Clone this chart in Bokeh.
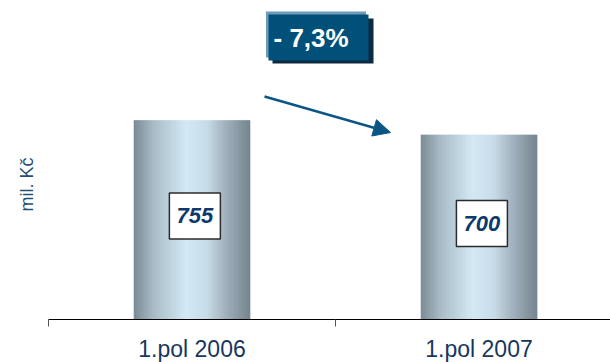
import math
from bokeh.plotting import figure
from bokeh.models import (ColumnDataSource, Range1d, FixedTicker, Label, Arrow, NormalHead, Title)
from bokeh.embed import file_html
from bokeh.resources import INLINE

# ---- data ----
categories = ["1.pol 2006", "1.pol 2007"]
values = [755, 700]
y_label = "mil. Kč"

# ---- layout constants ----
LEFT = 48
FRAME_W = 562
FRAME_H = 319
X_END = 1.958
Y_END = 1210
PX_X = FRAME_W / X_END      # px per x unit
PX_Y = FRAME_H / Y_END      # px per y unit

def sx(px):  # screen x -> data
    return (px - LEFT) / PX_X

def sy(py):  # screen y (from top) -> data
    return (FRAME_H - py) / PX_Y

FONT = "Liberation Sans"
NAVY = "#17375e"

p = figure(frame_width=FRAME_W, frame_height=FRAME_H,
           x_range=Range1d(0, X_END), y_range=Range1d(0, Y_END),
           output_backend="svg", toolbar_location=None,
           min_border_left=LEFT, min_border_right=0, min_border_top=0,
           min_border_bottom=0)
p.outline_line_color = None
p.grid.visible = False
p.background_fill_color = "white"
p.yaxis.visible = False

centers = [i + 0.5 for i in range(len(categories))]

xa = p.xaxis[0]
xa.ticker = FixedTicker(ticks=centers, minor_ticks=[0, 1, 2])
xa.major_label_overrides = {c: cat for c, cat in zip(centers, categories)}
xa.major_label_text_font = FONT
xa.major_label_text_font_size = "23px"
xa.major_label_text_color = NAVY
xa.major_label_standoff = 9
xa.axis_line_color = "#000000"
xa.axis_line_width = 1
xa.major_tick_line_color = None
xa.major_tick_out = 0
xa.major_tick_in = 0
xa.minor_tick_line_color = "#555555"
xa.minor_tick_out = 7
xa.minor_tick_in = 0

# ---- y label as a left-side title ----
p.add_layout(Title(text=y_label, align="left", offset=108, text_font=FONT,
                   text_font_size="18px", text_font_style="normal",
                   text_color="#1f4e79", standoff=24), "left")

# ---- gradient bars made of thin strips ----
stops = [(0.0, (0x7b, 0x8a, 0x94)), (0.17, (0xa9, 0xbc, 0xc7)), (0.45, (0xd3, 0xe9, 0xf5)),
         (0.63, (0xc7, 0xdc, 0xe8)), (0.80, (0x9f, 0xb0, 0xbb)), (1.0, (0x76, 0x85, 0x8e))]

def grad(t):
    for (t0, c0), (t1, c1) in zip(stops[:-1], stops[1:]):
        if t0 <= t <= t1:
            f = (t - t0) / (t1 - t0)
            c = [round(a + (b - a) * f) for a, b in zip(c0, c1)]
            return "#%02x%02x%02x" % tuple(c)
    return "#%02x%02x%02x" % stops[-1][1]

BAR_W = 116 / PX_X
N = 58
L, R, T, C = [], [], [], []
for cx, v in zip(centers, values):
    x0 = cx - BAR_W / 2
    for k in range(N):
        L.append(x0 + BAR_W * k / N)
        R.append(x0 + BAR_W * (k + 1) / N)
        T.append(v)
        C.append(grad((k + 0.5) / N))
p.quad(source=ColumnDataSource(dict(l=L, r=R, t=T, c=C)),
       left="l", right="r", bottom=0, top="t", fill_color="c", line_color="c", line_width=0.6)

# ---- value boxes ----
box_x = [c + 0.01 for c in centers]
box_y = [v * 0.52 for v in values]
p.rect(x=box_x, y=box_y, width=51, height=46, width_units="screen", height_units="screen",
       fill_color="white", line_color="#2b2b2b", line_width=1.5)
for bx, by, v in zip(box_x, box_y, values):
    p.add_layout(Label(x=bx, y=by, text=str(v), text_align="center", text_baseline="middle",
                       text_font=FONT, text_font_size="22px", text_font_style="bold italic",
                       text_color="#0d3a6c"))

# ---- change arrow ----
p.add_layout(Arrow(x_start=sx(264), y_start=sy(96), x_end=sx(390), y_end=sy(132),
                   line_color="#0b5585", line_width=2.5,
                   end=NormalHead(size=17, fill_color="#0b5585", line_color="#0b5585")))

# ---- percent box ----
change = (values[1] - values[0]) / values[0] * 100
pct_text = ("- " if change < 0 else "+ ") + ("%.1f" % abs(change)).replace(".", ",") + "%"
p.quad(left=[sx(272)], right=[sx(373)], top=[sy(18)], bottom=[sy(63)],
       fill_color="#0d2b40", line_color=None)
p.quad(left=[sx(265.5)], right=[sx(365.5)], top=[sy(11)], bottom=[sy(57)],
       fill_color="#6d9bb8", line_color=None)
p.quad(left=[sx(268)], right=[sx(368)], top=[sy(14)], bottom=[sy(60)],
       fill_color="#00507a", line_color=None)
p.add_layout(Label(x=sx(273), y=sy(37), text=pct_text, text_align="left", text_baseline="middle",
                   text_font=FONT, text_font_size="26px", text_font_style="bold",
                   text_color="white"))

open("out.html", "w").write(file_html(p, INLINE))
